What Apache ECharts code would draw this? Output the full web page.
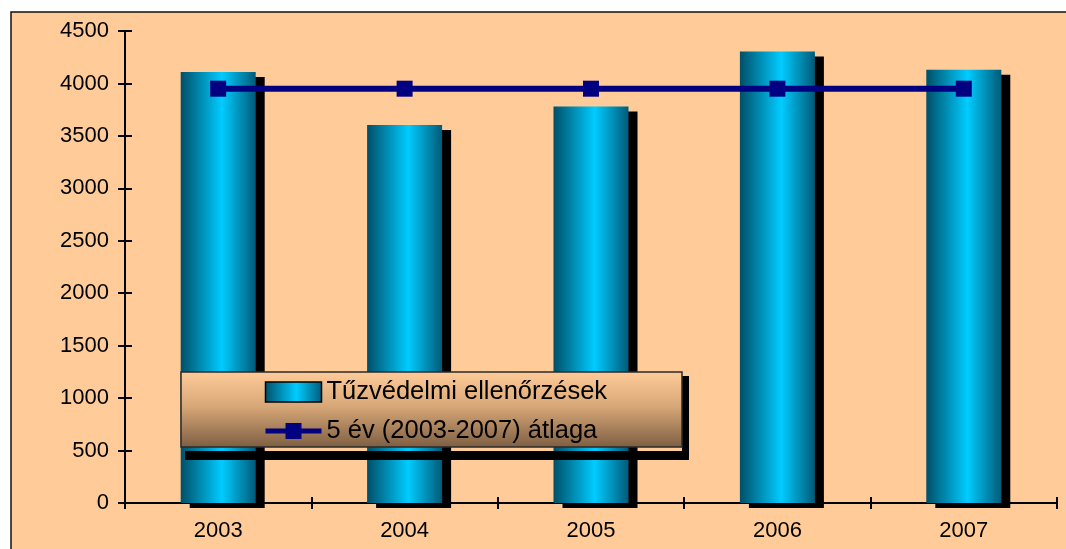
<!DOCTYPE html>
<html>
<head>
<meta charset="utf-8">
<style>html,body{margin:0;padding:0;background:#fff;}#c{width:1066px;height:549px;}</style>
<script src="https://cdn.jsdelivr.net/npm/echarts@6/dist/echarts.min.js"></script>
</head>
<body>
<div id="c"></div>
<script>
const categories = ['2003', '2004', '2005', '2006', '2007'];
const inspections = [4108, 3605, 3780, 4305, 4130];
const average = [3950, 3950, 3950, 3950, 3950];
const seriesNames = ['Tűzvédelmi ellenőrzések', '5 év (2003-2007) átlaga'];

const FONT = "'Liberation Sans', Arial, sans-serif";
const chart = echarts.init(document.getElementById('c'));

const barGradient = new echarts.graphic.LinearGradient(0, 0, 1, 0, [
  { offset: 0, color: '#004f68' },
  { offset: 0.55, color: '#00ccff' },
  { offset: 1, color: '#005a78' }
]);

const option = {
  backgroundColor: '#ffffff',
  animation: false,
  grid: { left: 125, right: 9, top: 31, bottom: 46, containLabel: false },
  xAxis: [
    {
      type: 'category', data: categories, position: 'bottom',
      axisLine: { onZero: false, lineStyle: { color: '#000', width: 2 } },
      axisTick: { show: true, length: 6, lineStyle: { color: '#000', width: 2 } },
      axisLabel: { color: '#000', fontSize: 22, fontFamily: FONT, margin: 17 }
    },
    {
      type: 'category', data: categories, position: 'bottom', gridIndex: 0,
      axisLine: { show: false, onZero: false },
      axisTick: { show: true, inside: true, length: 6, lineStyle: { color: '#000', width: 2 } },
      axisLabel: { show: false }
    }
  ],
  yAxis: [
    {
      type: 'value', min: 0, max: 4500, interval: 500, position: 'left',
      axisLine: { show: true, onZero: false, lineStyle: { color: '#000', width: 2 } },
      axisTick: { show: true, length: 7, lineStyle: { color: '#000', width: 2 } },
      axisLabel: { color: '#000', fontSize: 22, fontFamily: FONT, margin: 16, formatter: v => String(v) },
      splitLine: { show: false }
    },
    {
      type: 'value', min: 0, max: 4500, interval: 500, position: 'left',
      axisLine: { show: false, onZero: false },
      axisTick: { show: true, inside: true, length: 7, lineStyle: { color: '#000', width: 2 } },
      axisLabel: { show: false },
      splitLine: { show: false }
    }
  ],
  legend: {
    orient: 'vertical', left: 263, top: 379, padding: 0, itemGap: 13,
    itemWidth: 56, itemHeight: 20, z: 20,
    textStyle: { color: '#000', fontSize: 25.5, fontFamily: FONT },
    data: [
      { name: seriesNames[0], icon: 'rect', itemStyle: { borderColor: '#000', borderWidth: 1.5 } },
      { name: seriesNames[1], lineStyle: { width: 5 } }
    ]
  },
  graphic: [
    {
      type: 'rect', z: -10, silent: true,
      shape: { x: 11, y: 12, width: 1080, height: 560 },
      style: { fill: '#FFCC99', stroke: '#111', lineWidth: 1.5 }
    },
    {
      type: 'rect', z: 9, silent: true,
      shape: { x: 682, y: 376, width: 7, height: 84 },
      style: { fill: '#000' }
    },
    {
      type: 'rect', z: 9, silent: true,
      shape: { x: 185, y: 451, width: 504, height: 9 },
      style: { fill: '#000' }
    },
    {
      type: 'rect', z: 10, silent: true,
      shape: { x: 181, y: 372, width: 501, height: 75 },
      style: {
        fill: new echarts.graphic.LinearGradient(0, 0, 0, 1, [
          { offset: 0, color: '#FFCC99' },
          { offset: 0.45, color: '#d9a878' },
          { offset: 1, color: '#7d5e42' }
        ]),
        stroke: '#2a2a2a', lineWidth: 1.5
      }
    }
  ],
  series: [
    {
      name: seriesNames[0], type: 'bar', data: inspections, barWidth: 75,
      xAxisIndex: 0, yAxisIndex: 0, z: 2,
      itemStyle: {
        color: barGradient, borderWidth: 0,
        shadowColor: '#000', shadowBlur: 0, shadowOffsetX: 9, shadowOffsetY: 5
      }
    },
    {
      name: seriesNames[1], type: 'line', data: average,
      xAxisIndex: 0, yAxisIndex: 0, z: 5,
      symbol: 'rect', symbolSize: 16,
      lineStyle: { color: '#000080', width: 6 },
      itemStyle: { color: '#000080' }
    }
  ]
};
chart.setOption(option);
</script>
</body>
</html>
